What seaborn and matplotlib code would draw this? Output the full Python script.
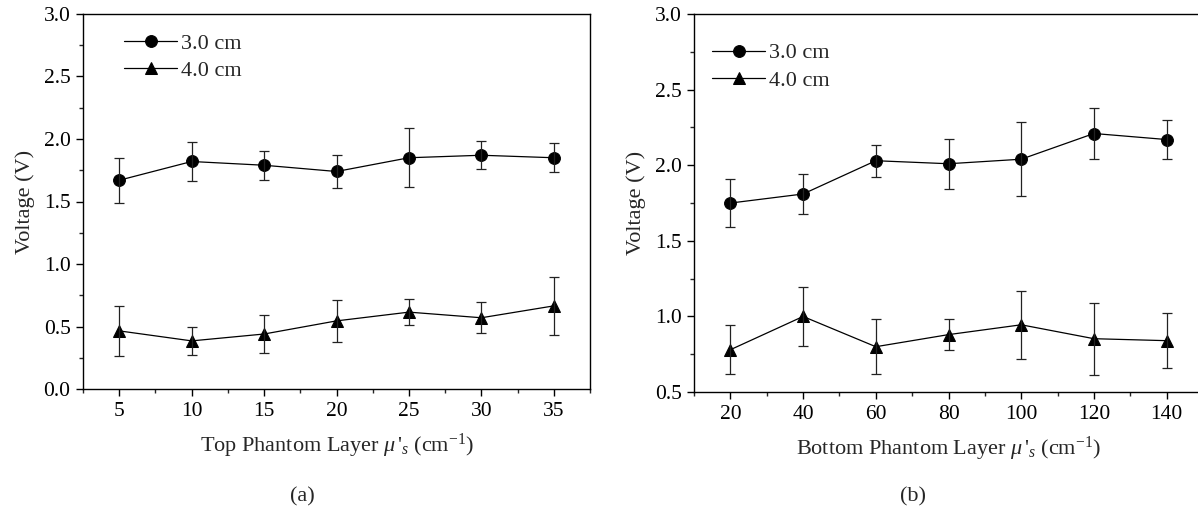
import numpy as np
import pandas as pd
import matplotlib
matplotlib.use("Agg")
import matplotlib.pyplot as plt
from matplotlib.ticker import MultipleLocator
import seaborn as sns

# panel (a): top phantom layer
top_mu = [5, 10, 15, 20, 25, 30, 35]
top_30 = [1.67, 1.82, 1.79, 1.74, 1.85, 1.87, 1.85]
top_30_err = [0.18, 0.155, 0.115, 0.135, 0.235, 0.11, 0.115]
top_40 = [0.465, 0.385, 0.44, 0.545, 0.615, 0.57, 0.665]
top_40_err = [0.2, 0.115, 0.15, 0.17, 0.105, 0.125, 0.23]

# panel (b): bottom phantom layer
bot_mu = [20, 40, 60, 80, 100, 120, 140]
bot_30 = [1.75, 1.81, 2.03, 2.01, 2.04, 2.21, 2.17]
bot_30_err = [0.16, 0.135, 0.105, 0.165, 0.245, 0.17, 0.13]
bot_40 = [0.78, 1.0, 0.80, 0.88, 0.945, 0.853, 0.84]
bot_40_err = [0.162, 0.195, 0.18, 0.1, 0.225, 0.238, 0.18]

series_names = ["3.0 cm", "4.0 cm"]

sns.set_theme(style="ticks")
plt.rcParams["font.family"] = ["Liberation Serif", "DejaVu Serif"]
plt.rcParams["mathtext.fontset"] = "custom"
plt.rcParams["mathtext.rm"] = "Liberation Serif"
plt.rcParams["mathtext.it"] = "Liberation Serif:italic"


def make_frame(x, y30, e30, y40, e40):
    return pd.DataFrame({
        "mu": list(x) + list(x),
        "voltage": list(y30) + list(y40),
        "err": list(e30) + list(e40),
        "depth": [series_names[0]] * len(x) + [series_names[1]] * len(x),
    })


def draw_panel(ax, df, xlim, ylim, xmajor, xlabel, legend_anchor):
    sns.lineplot(data=df, x="mu", y="voltage", style="depth",
                 markers={"3.0 cm": "o", "4.0 cm": "^"}, dashes=False,
                 color="black", linewidth=0.9, markersize=8.5,
                 markeredgecolor="black", ax=ax)
    for name in series_names:
        sub = df[df["depth"] == name]
        ax.errorbar(sub["mu"], sub["voltage"], yerr=sub["err"], fmt="none",
                    ecolor="#222222", elinewidth=0.9, capsize=3.5, capthick=0.9)
    ax.set_xlim(*xlim)
    ax.set_ylim(*ylim)
    ax.xaxis.set_major_locator(MultipleLocator(xmajor))
    ax.xaxis.set_minor_locator(MultipleLocator(xmajor / 2))
    ax.yaxis.set_major_locator(MultipleLocator(0.5))
    ax.yaxis.set_minor_locator(MultipleLocator(0.25))
    ax.yaxis.set_major_formatter(matplotlib.ticker.FormatStrFormatter("%.1f"))
    ax.tick_params(which="major", direction="out", length=5, width=1.0,
                   labelsize=15.5, colors="black", top=False, right=False, pad=4)
    ax.tick_params(which="minor", direction="out", length=3, width=1.0,
                   top=False, right=False)
    for sp in ax.spines.values():
        sp.set_linewidth(1.0)
        sp.set_color("black")
        sp.set_visible(True)
    ax.set_xlabel(xlabel, fontsize=16, labelpad=8)
    ax.set_ylabel("Voltage (V)", fontsize=16, labelpad=6)
    ax.legend(loc="upper left", frameon=False, fontsize=16, handlelength=2.4,
              handletextpad=0.15, labelspacing=0.3, borderaxespad=0.3,
              bbox_to_anchor=legend_anchor)


fig = plt.figure(figsize=(11.98, 5.2), dpi=100)
ax_a = fig.add_axes([0.0693, 0.2519, 0.4232, 0.7212])
ax_b = fig.add_axes([0.5793, 0.246, 0.4249, 0.727])

draw_panel(ax_a, make_frame(top_mu, top_30, top_30_err, top_40, top_40_err),
           (2.5, 37.5), (0.0, 3.0), 5,
           r"Top Phantom Layer $\mu\,'_{s}$ (cm$^{\mathrm{-1}}$)", (0.05, 0.99))
draw_panel(ax_b, make_frame(bot_mu, bot_30, bot_30_err, bot_40, bot_40_err),
           (10, 150), (0.5, 3.0), 20,
           r"Bottom Phantom Layer $\mu\,'_{s}$ (cm$^{\mathrm{-1}}$)", (0.005, 0.965))

fig.text(302 / 1198, 1 - 497 / 520, "(a)", ha="center", va="center", fontsize=16)
fig.text(913 / 1198, 1 - 497 / 520, "(b)", ha="center", va="center", fontsize=16)

fig.savefig("out.png", dpi=100)
